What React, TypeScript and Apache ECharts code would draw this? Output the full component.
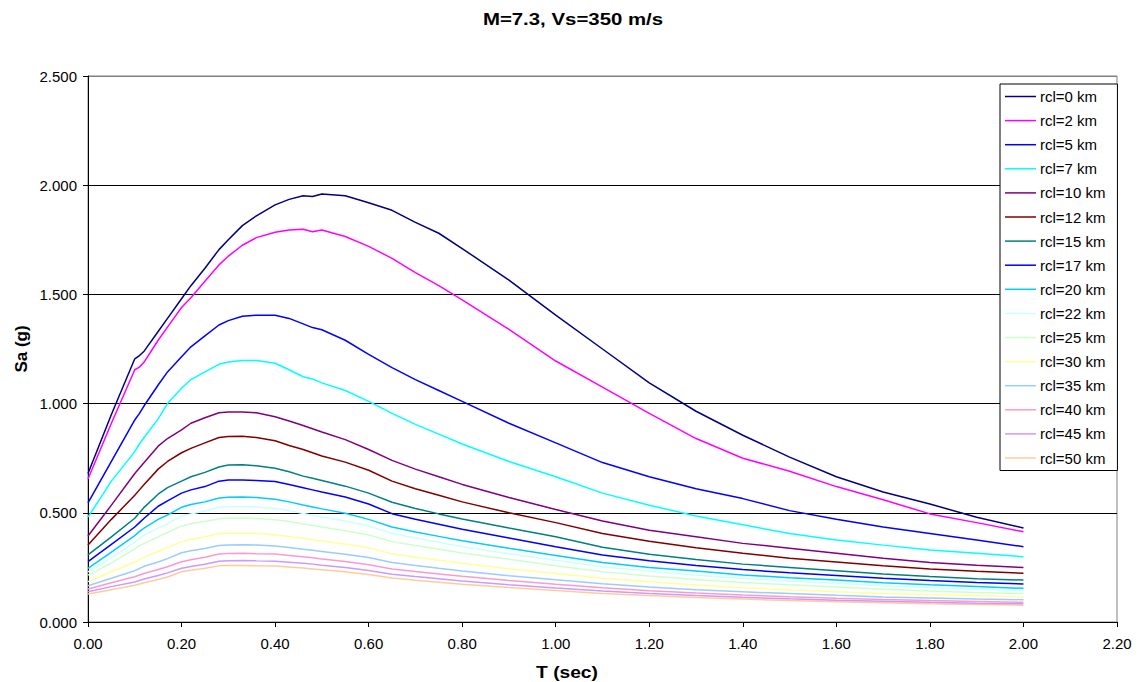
import React, { useEffect, useRef } from "react";
import * as echarts from "echarts";

// Periods (sec)
const periods = [
  0, 0.05, 0.1, 0.11, 0.12, 0.15, 0.17, 0.2, 0.22, 0.25, 0.28, 0.3, 0.33, 0.36, 0.4, 0.43, 0.46, 0.48, 0.5,
  0.55, 0.6, 0.65, 0.7, 0.75, 0.8, 0.9, 1.0, 1.1, 1.2, 1.3, 1.4, 1.5, 1.6, 1.7, 1.8, 1.9, 2.0,
];

// Spectral acceleration Sa (g) for each rupture distance
const rcl0 = [0.68, 0.95, 1.205, 1.22, 1.24, 1.33, 1.39, 1.48, 1.54, 1.62, 1.705, 1.75, 1.815, 1.86, 1.91, 1.935, 1.952, 1.948, 1.96, 1.952, 1.92, 1.885, 1.83, 1.78, 1.71, 1.565, 1.405, 1.25, 1.095, 0.965, 0.855, 0.755, 0.665, 0.595, 0.54, 0.48, 0.43];
const rcl2 = [0.655, 0.91, 1.155, 1.167, 1.19, 1.29, 1.35, 1.44, 1.485, 1.56, 1.635, 1.675, 1.725, 1.76, 1.785, 1.795, 1.798, 1.787, 1.795, 1.765, 1.72, 1.665, 1.6, 1.54, 1.475, 1.34, 1.195, 1.075, 0.955, 0.84, 0.75, 0.69, 0.62, 0.56, 0.495, 0.455, 0.413];
const rcl5 = [0.545, 0.735, 0.925, 0.955, 0.99, 1.085, 1.145, 1.215, 1.26, 1.31, 1.36, 1.38, 1.4, 1.405, 1.405, 1.39, 1.365, 1.348, 1.338, 1.29, 1.225, 1.165, 1.11, 1.06, 1.01, 0.91, 0.82, 0.73, 0.665, 0.61, 0.565, 0.51, 0.47, 0.435, 0.405, 0.375, 0.345];
const rcl7 = [0.48, 0.645, 0.78, 0.815, 0.845, 0.93, 1.0, 1.07, 1.11, 1.145, 1.18, 1.19, 1.197, 1.197, 1.185, 1.155, 1.123, 1.113, 1.095, 1.06, 1.01, 0.955, 0.905, 0.86, 0.815, 0.735, 0.665, 0.59, 0.535, 0.485, 0.445, 0.405, 0.375, 0.352, 0.33, 0.315, 0.299];
const rcl10 = [0.394, 0.535, 0.68, 0.705, 0.73, 0.805, 0.84, 0.88, 0.91, 0.935, 0.958, 0.962, 0.962, 0.958, 0.94, 0.92, 0.9, 0.885, 0.87, 0.835, 0.79, 0.74, 0.7, 0.665, 0.63, 0.57, 0.515, 0.462, 0.42, 0.39, 0.36, 0.338, 0.315, 0.292, 0.272, 0.26, 0.249];
const rcl12 = [0.353, 0.47, 0.58, 0.605, 0.63, 0.7, 0.735, 0.775, 0.795, 0.82, 0.845, 0.849, 0.85, 0.845, 0.83, 0.808, 0.79, 0.775, 0.76, 0.732, 0.695, 0.645, 0.61, 0.58, 0.55, 0.5, 0.455, 0.405, 0.37, 0.34, 0.315, 0.292, 0.275, 0.258, 0.243, 0.232, 0.223];
const rcl15 = [0.307, 0.39, 0.475, 0.5, 0.525, 0.585, 0.615, 0.645, 0.665, 0.685, 0.71, 0.719, 0.72, 0.715, 0.704, 0.688, 0.668, 0.658, 0.648, 0.622, 0.59, 0.548, 0.52, 0.495, 0.472, 0.43, 0.39, 0.342, 0.31, 0.286, 0.265, 0.25, 0.235, 0.22, 0.208, 0.198, 0.192];
const rcl17 = [0.276, 0.355, 0.435, 0.455, 0.475, 0.53, 0.555, 0.59, 0.605, 0.62, 0.645, 0.65, 0.65, 0.648, 0.643, 0.63, 0.615, 0.605, 0.595, 0.572, 0.54, 0.496, 0.47, 0.448, 0.425, 0.385, 0.345, 0.307, 0.28, 0.259, 0.24, 0.225, 0.213, 0.2, 0.19, 0.181, 0.174];
const rcl20 = [0.246, 0.32, 0.395, 0.415, 0.43, 0.47, 0.49, 0.525, 0.538, 0.55, 0.568, 0.571, 0.572, 0.57, 0.562, 0.55, 0.536, 0.527, 0.518, 0.498, 0.47, 0.435, 0.412, 0.392, 0.372, 0.338, 0.305, 0.272, 0.25, 0.233, 0.215, 0.203, 0.192, 0.18, 0.17, 0.162, 0.154];
const rcl22 = [0.23, 0.295, 0.365, 0.383, 0.398, 0.43, 0.45, 0.485, 0.495, 0.508, 0.525, 0.528, 0.529, 0.527, 0.52, 0.51, 0.497, 0.489, 0.481, 0.462, 0.44, 0.405, 0.385, 0.365, 0.345, 0.313, 0.283, 0.253, 0.232, 0.215, 0.199, 0.187, 0.177, 0.166, 0.157, 0.15, 0.145];
const rcl25 = [0.215, 0.27, 0.335, 0.35, 0.36, 0.39, 0.41, 0.44, 0.45, 0.46, 0.473, 0.475, 0.476, 0.474, 0.468, 0.46, 0.449, 0.442, 0.435, 0.418, 0.398, 0.368, 0.35, 0.333, 0.316, 0.287, 0.258, 0.23, 0.211, 0.195, 0.181, 0.17, 0.16, 0.15, 0.142, 0.135, 0.13];
const rcl30 = [0.185, 0.23, 0.275, 0.287, 0.297, 0.323, 0.34, 0.368, 0.378, 0.39, 0.404, 0.406, 0.407, 0.405, 0.4, 0.392, 0.383, 0.377, 0.371, 0.357, 0.34, 0.313, 0.297, 0.283, 0.269, 0.244, 0.222, 0.2, 0.184, 0.169, 0.157, 0.148, 0.139, 0.131, 0.125, 0.12, 0.115];
const rcl35 = [0.166, 0.2, 0.235, 0.245, 0.255, 0.275, 0.29, 0.317, 0.326, 0.337, 0.35, 0.353, 0.354, 0.352, 0.348, 0.341, 0.333, 0.328, 0.323, 0.31, 0.295, 0.272, 0.259, 0.246, 0.234, 0.212, 0.193, 0.175, 0.16, 0.148, 0.138, 0.13, 0.122, 0.115, 0.11, 0.105, 0.102];
const rcl40 = [0.151, 0.18, 0.207, 0.215, 0.222, 0.24, 0.253, 0.276, 0.285, 0.296, 0.311, 0.314, 0.315, 0.313, 0.311, 0.305, 0.299, 0.294, 0.289, 0.277, 0.262, 0.243, 0.231, 0.22, 0.209, 0.19, 0.173, 0.157, 0.143, 0.133, 0.124, 0.116, 0.109, 0.103, 0.098, 0.094, 0.09];
const rcl45 = [0.139, 0.162, 0.183, 0.19, 0.197, 0.213, 0.225, 0.246, 0.254, 0.264, 0.278, 0.281, 0.282, 0.28, 0.278, 0.274, 0.269, 0.265, 0.26, 0.25, 0.236, 0.219, 0.208, 0.198, 0.188, 0.171, 0.156, 0.142, 0.13, 0.121, 0.113, 0.106, 0.1, 0.095, 0.09, 0.086, 0.083];
const rcl50 = [0.128, 0.148, 0.168, 0.174, 0.18, 0.195, 0.206, 0.23, 0.237, 0.246, 0.257, 0.259, 0.259, 0.257, 0.256, 0.252, 0.247, 0.243, 0.239, 0.23, 0.217, 0.201, 0.191, 0.182, 0.173, 0.158, 0.144, 0.131, 0.121, 0.112, 0.105, 0.098, 0.093, 0.088, 0.083, 0.08, 0.077];

const seriesNames = [
  "rcl=0 km", "rcl=2 km", "rcl=5 km", "rcl=7 km", "rcl=10 km", "rcl=12 km", "rcl=15 km", "rcl=17 km",
  "rcl=20 km", "rcl=22 km", "rcl=25 km", "rcl=30 km", "rcl=35 km", "rcl=40 km", "rcl=45 km", "rcl=50 km",
];
const seriesValues = [rcl0, rcl2, rcl5, rcl7, rcl10, rcl12, rcl15, rcl17, rcl20, rcl22, rcl25, rcl30, rcl35, rcl40, rcl45, rcl50];
const seriesColors = [
  "#000080", "#FF00FF", "#0000FF", "#00FFFF", "#800080", "#800000", "#008080", "#0000FF",
  "#00CCFF", "#CCFFFF", "#CCFFCC", "#FFFF99", "#99CCFF", "#FF99CC", "#CC99FF", "#FFCC99",
];

const FONT = "'Liberation Sans', Arial, sans-serif";

export default function App() {
  const ref = useRef<HTMLDivElement>(null);

  useEffect(() => {
    if (!ref.current) return;
    const chart = echarts.init(ref.current, null, { renderer: "svg" });

    const series = seriesNames.map((name, i) => ({
      name,
      type: "line",
      data: periods.map((t, k) => [t, seriesValues[i][k]]),
      showSymbol: false,
      symbol: "none",
      smooth: false,
      lineStyle: { color: seriesColors[i], width: 1.5 },
      itemStyle: { color: seriesColors[i] },
      z: 20 - i,
    }));

    chart.setOption({
      animation: false,
      backgroundColor: "#ffffff",
      grid: {
        left: 88,
        right: 30,
        top: 76,
        bottom: 60,
        show: true,
        borderColor: "#808080",
        borderWidth: 1,
        backgroundColor: "#ffffff",
      },
      legend: {
        orient: "vertical",
        left: 1000,
        top: 84,
        padding: [5, 12, 5, 5],
        itemGap: 9.1,
        itemWidth: 31,
        itemHeight: 14,
        backgroundColor: "#ffffff",
        borderColor: "#000000",
        borderWidth: 1,
        icon: "path://M0,6.5 H31 V8 H0 Z",
        textStyle: { fontFamily: FONT, fontSize: 15, lineHeight: 14, color: "#000", padding: [0, 0, 0, -1] },
        data: seriesNames.map((n, i) => ({ name: n, itemStyle: { color: seriesColors[i] } })),
        selectedMode: false,
      },
      xAxis: {
        type: "value",
        min: 0,
        max: 2.2,
        interval: 0.2,
        axisLine: { show: true, lineStyle: { color: "#000", width: 1 } },
        axisTick: { show: true, inside: false, length: 5, lineStyle: { color: "#000" } },
        axisLabel: {
          margin: 14,
          fontFamily: FONT,
          fontSize: 15,
          color: "#000",
          formatter: (v: number) => v.toFixed(2),
        },
        splitLine: { show: false },
      },
      yAxis: {
        type: "value",
        min: 0,
        max: 2.5,
        interval: 0.5,
        axisLine: { show: true, lineStyle: { color: "#000", width: 1 } },
        axisTick: { show: true, inside: false, length: 5, lineStyle: { color: "#000" } },
        axisLabel: {
          margin: 11,
          fontFamily: FONT,
          fontSize: 15,
          color: "#000",
          formatter: (v: number) => v.toFixed(3),
        },
        splitLine: {
          show: true,
          lineStyle: { color: ["#000", "#000", "#000", "#000", "#000", "#808080"], width: 1 },
        },
      },
      graphic: [
        {
          type: "text",
          x: 573,
          y: 19,
          scaleX: 1.2,
          style: {
            text: "M=7.3, Vs=350 m/s",
            fontFamily: FONT,
            fontSize: 17,
            fontWeight: "bold",
            fill: "#000",
            align: "center",
            verticalAlign: "middle",
          },
        },
        {
          type: "text",
          x: 567,
          y: 673,
          scaleX: 1.2,
          style: {
            text: "T (sec)",
            fontFamily: FONT,
            fontSize: 16,
            fontWeight: "bold",
            fill: "#000",
            align: "center",
            verticalAlign: "middle",
          },
        },
        {
          type: "text",
          x: 21,
          y: 349,
          rotation: Math.PI / 2,
          style: {
            text: "Sa (g)",
            fontFamily: FONT,
            fontSize: 17,
            fontWeight: "bold",
            fill: "#000",
            align: "center",
            verticalAlign: "middle",
          },
        },
      ],
      series,
    });

    return () => chart.dispose();
  }, []);

  return <div ref={ref} style={{ position: "absolute", left: 0, top: 0, width: 1147, height: 682 }} />;
}
